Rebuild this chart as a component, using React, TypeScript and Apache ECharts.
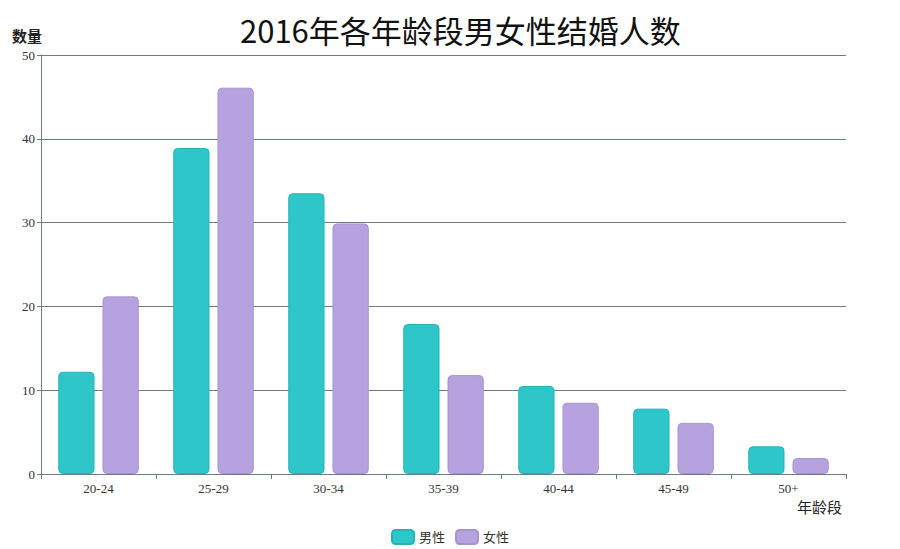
import React, { useEffect, useRef } from "react";
import * as echarts from "echarts";

const categories = ["20-24", "25-29", "30-34", "35-39", "40-44", "45-49", "50+"];
const maleValues = [12.2, 38.9, 33.5, 17.9, 10.5, 7.8, 3.3];
const femaleValues = [21.2, 46.1, 29.9, 11.8, 8.5, 6.1, 1.9];
const seriesNames = ["男性", "女性"];
const titleText = "2016年各年龄段男女性结婚人数";

const FONT = "'Liberation Serif', 'Noto Sans CJK SC', serif";
const AXIS_COLOR = "#6a7d80";

export default function App() {
  const ref = useRef<HTMLDivElement>(null);
  useEffect(() => {
    if (!ref.current) return;
    const chart = echarts.init(ref.current, undefined, { renderer: "svg" });
    chart.setOption({
      animation: false,
      backgroundColor: "#ffffff",
      textStyle: { fontFamily: FONT },
      title: {
        text: titleText,
        left: 235,
        top: 9,
        textStyle: {
          fontFamily: "'Noto Sans CJK SC', 'Liberation Sans', sans-serif",
          fontSize: 31,
          fontWeight: "normal",
          color: "#111",
        },
      },
      legend: {
        data: seriesNames,
        bottom: 1,
        left: "center",
        padding: [5, 5, 3, 5],
        itemWidth: 22,
        itemHeight: 14,
        itemGap: 10,
        textStyle: { fontFamily: FONT, fontSize: 13, color: "#333" },
      },
      grid: { left: 41, right: 54, top: 55, bottom: 75 },
      xAxis: {
        type: "category",
        data: categories,
        name: "年龄段",
        nameLocation: "end",
        nameGap: -49,
        nameTextStyle: {
          fontFamily: FONT,
          fontSize: 15,
          color: "#222",
          verticalAlign: "top",
          align: "left",
          padding: [26, 0, 0, 0],
        },
        axisLine: { lineStyle: { color: AXIS_COLOR, width: 1 } },
        axisTick: { show: true, length: 5, lineStyle: { color: AXIS_COLOR } },
        axisLabel: { fontFamily: FONT, fontSize: 13, color: "#333", margin: 8 },
      },
      yAxis: {
        type: "value",
        min: 0,
        max: 50,
        interval: 10,
        name: "数量",
        nameLocation: "end",
        nameGap: 11,
        nameTextStyle: {
          fontFamily: FONT,
          fontSize: 15,
          fontWeight: "bold",
          color: "#222",
          padding: [0, 28, 0, 0],
        },
        axisLine: { show: true, lineStyle: { color: AXIS_COLOR, width: 1 } },
        axisTick: { show: true, length: 4, lineStyle: { color: AXIS_COLOR } },
        axisLabel: { fontFamily: FONT, fontSize: 13, color: "#333", margin: 6 },
        splitLine: { show: true, lineStyle: { color: AXIS_COLOR, width: 1 } },
      },
      series: [
        {
          name: seriesNames[0],
          type: "bar",
          data: maleValues,
          barGap: "22%",
          barCategoryGap: "30%",
          itemStyle: {
            color: "#2ec7c9",
            borderColor: "#27b3b5",
            borderWidth: 1,
            borderRadius: 4,
          },
        },
        {
          name: seriesNames[1],
          type: "bar",
          data: femaleValues,
          barGap: "22%",
          barCategoryGap: "30%",
          itemStyle: {
            color: "#b6a2de",
            borderColor: "#a793d0",
            borderWidth: 1,
            borderRadius: 4,
          },
        },
      ],
    });
    return () => chart.dispose();
  }, []);
  return (
    <div
      ref={ref}
      style={{ position: "fixed", left: 0, top: 0, width: 900, height: 549 }}
    />
  );
}
